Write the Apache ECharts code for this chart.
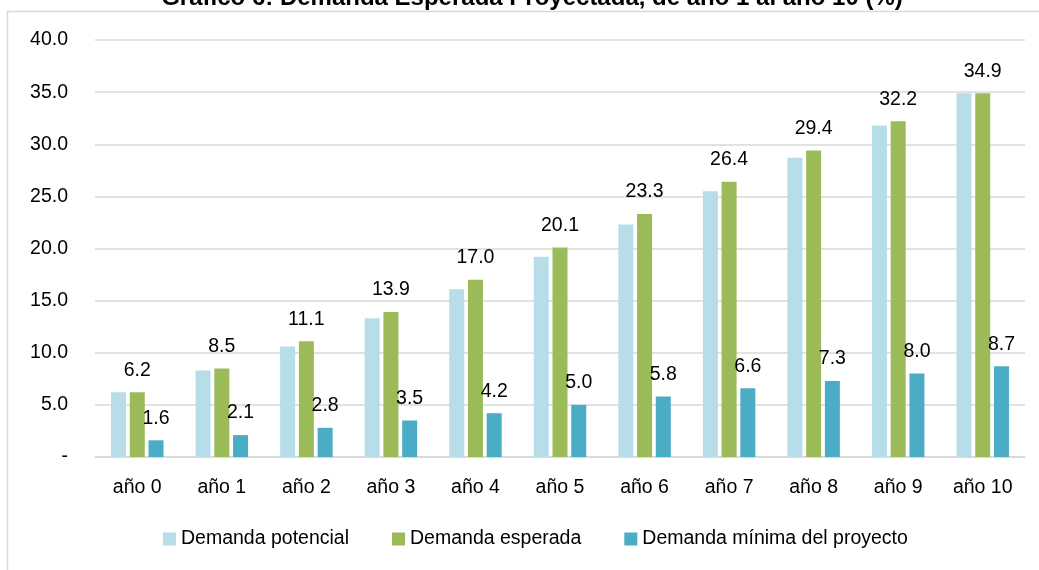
<!DOCTYPE html>
<html>
<head>
<meta charset="utf-8">
<title>Demanda Esperada Proyectada</title>
<script src="https://cdn.jsdelivr.net/npm/echarts@6/dist/echarts.min.js"></script>
<style>
  html, body { margin: 0; padding: 0; background: #ffffff; }
  #chart { width: 1039px; height: 570px; }
</style>
</head>
<body>
<div id="chart"></div>
<script>
// Categories and series values (%)
const years = ['año 0', 'año 1', 'año 2', 'año 3', 'año 4', 'año 5', 'año 6', 'año 7', 'año 8', 'año 9', 'año 10'];
const demandaPotencial = [6.2, 8.3, 10.6, 13.3, 16.1, 19.2, 22.3, 25.5, 28.7, 31.8, 34.9];
const demandaEsperada  = [6.2, 8.5, 11.1, 13.9, 17.0, 20.1, 23.3, 26.4, 29.4, 32.2, 34.9];
const demandaMinima    = [1.6, 2.1, 2.8, 3.5, 4.2, 5.0, 5.8, 6.6, 7.3, 8.0, 8.7];
const seriesNames = ['Demanda potencial', 'Demanda esperada', 'Demanda mínima del proyecto'];

const FONT = '"Liberation Sans", Arial, sans-serif';
const GRID_COLOR = '#d9d9d9';
const TEXT_SIZE = 19.5;

const chart = echarts.init(document.getElementById('chart'), null, { renderer: 'canvas' });

const valueLabel = {
  show: true,
  position: 'top',
  distance: 12,
  color: '#000000',
  fontFamily: FONT,
  fontSize: TEXT_SIZE,
  formatter: p => p.value.toFixed(1)
};

chart.setOption({
  animation: false,
  backgroundColor: '#ffffff',
  title: {
    text: 'Gráfico 6: Demanda Esperada Proyectada, de año 1 al año 10 (%)',
    left: 532,
    top: -14,
    textAlign: 'center',
    padding: 0,
    textStyle: { fontFamily: FONT, fontSize: 24, fontWeight: 'bold', color: '#000000' }
  },
  graphic: [{
    type: 'rect',
    silent: true,
    z: -10,
    shape: { x: 7.5, y: 11.5, width: 1200, height: 800 },
    style: { fill: 'none', stroke: GRID_COLOR, lineWidth: 1.5 }
  }],
  legend: {
    data: seriesNames,
    left: 163,
    top: 529,
    padding: 0,
    itemWidth: 13,
    itemHeight: 13,
    itemGap: 43,
    icon: 'rect',
    textStyle: { fontFamily: FONT, fontSize: TEXT_SIZE, color: '#000000' }
  },
  grid: { left: 95, right: 14, top: 40, bottom: 113, containLabel: false },
  xAxis: {
    type: 'category',
    data: years,
    axisLine: { lineStyle: { color: GRID_COLOR, width: 1.5 } },
    axisTick: { show: false },
    axisLabel: { interval: 0, margin: 21, color: '#000000', fontFamily: FONT, fontSize: TEXT_SIZE }
  },
  yAxis: {
    type: 'value',
    min: 0,
    max: 40,
    interval: 5,
    axisLine: { show: false },
    axisTick: { show: false },
    splitLine: { lineStyle: { color: GRID_COLOR, width: 1.5 } },
    axisLabel: {
      margin: 27,
      color: '#000000',
      fontFamily: FONT,
      fontSize: TEXT_SIZE,
      formatter: v => (v === 0 ? '-' : v.toFixed(1))
    }
  },
  series: [
    {
      name: seriesNames[0],
      type: 'bar',
      data: demandaPotencial,
      barWidth: 15,
      barGap: '25%',
      itemStyle: { color: '#b7dde8' }
    },
    {
      name: seriesNames[1],
      type: 'bar',
      data: demandaEsperada,
      barWidth: 15,
      barGap: '25%',
      itemStyle: { color: '#9bbb59' },
      label: valueLabel
    },
    {
      name: seriesNames[2],
      type: 'bar',
      data: demandaMinima,
      barWidth: 15,
      barGap: '25%',
      itemStyle: { color: '#4bacc6' },
      label: valueLabel
    }
  ]
});
</script>
</body>
</html>
